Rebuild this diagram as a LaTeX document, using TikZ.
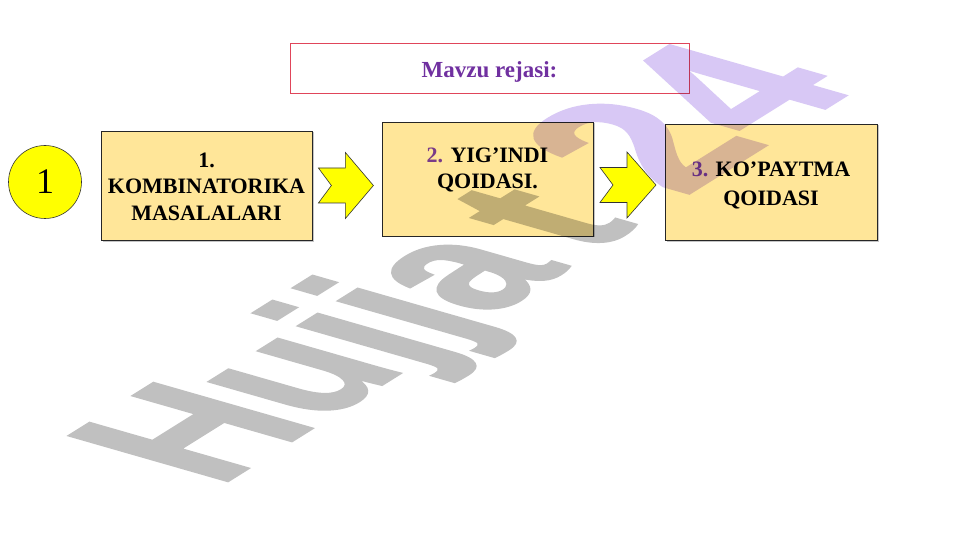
\documentclass[tikz,border=0pt]{standalone}
\usepackage{fontspec}
\setmainfont{Liberation Serif}
\newfontfamily\wmfont[BoldFeatures={FakeBold=1.5}]{Liberation Sans}
\usetikzlibrary{shadows,calc}
\definecolor{boxfill}{HTML}{FFE699}
\definecolor{topicpurple}{HTML}{7030A0}
\definecolor{numpurple}{HTML}{7A3C88}
\definecolor{titlered}{HTML}{E0455A}
\definecolor{wmgrey}{HTML}{C0C0C0}
\definecolor{wmlav}{HTML}{D8C8F5}
\definecolor{arrowyellow}{HTML}{FFFF00}
\tikzset{
  topicbox/.style={draw=black!85, line width=0.8pt, fill=boxfill, inner sep=0pt,
    drop shadow={shadow xshift=1.5pt, shadow yshift=-1.5pt, fill=black!45, opacity=0.5}},
  boxtext/.style={align=center, inner sep=0pt, font=\fontsize{22}{26.5}\selectfont\bfseries},
  blockarrow/.style={draw=black!80, line width=0.6pt, fill=arrowyellow, line join=miter},
  titlebox/.style={draw=titlered, line width=0.8pt, fill=white, inner sep=0pt},
  numcircle/.style={circle, draw=black!80, line width=0.6pt, fill=arrowyellow, inner sep=0pt},
  wmtext/.style={transform shape, anchor=base west, inner sep=0pt,
    font=\wmfont\bfseries\fontsize{10}{12}\selectfont}
}
\begin{document}
\begin{tikzpicture}[x=1pt,y=-1pt]
\useasboundingbox (0,0) rectangle (961,540);
\fill[white] (0,0) rectangle (961,540);

% title
\node[titlebox, minimum width=399pt, minimum height=50pt] (title) at (489.5,68) {};
\node[inner sep=0pt, text=topicpurple, font=\bfseries\fontsize{23}{27}\selectfont]
  (titletext) at ($(title.center)+(0,3.5)$) {Mavzu rejasi:};

% number circle
\node[numcircle, minimum size=73pt] (c1) at (45,182) {\fontsize{36}{40}\selectfont 1};

% boxes
\node[topicbox, minimum width=211pt, minimum height=109pt] (b1) at (206.5,185.5) {};
\node[topicbox, minimum width=211pt, minimum height=114pt] (b2) at (487.5,179) {};
\node[topicbox, minimum width=212pt, minimum height=116pt] (b3) at (771,182) {};

\node[boxtext] (t1) at ($(b1.center)+(0,1)$) {1.\\KOMBINATORIKA\\MASALALARI};
\node[boxtext] (t2) at ($(b2.center)+(0,-9)$) {\textcolor{numpurple}{2.} YIG’INDI\\QOIDASI.};
\node[boxtext, font=\fontsize{22}{29}\selectfont\bfseries] (t3) at ($(b3.center)+(0,3)$) {\textcolor{numpurple}{3.} KO’PAYTMA\\QOIDASI};

% watermark
\begin{scope}[blend mode=multiply, transparency group]
\begin{scope}[cm={14.4,9.0,-23,6.6,(215,489)}]
  \node[wmtext, text=wmgrey] (wm1) at (0,0) {Hujja\kern0.15em t};
\end{scope}
\begin{scope}[cm={16.0,10.0,-25.5,7.3,(680,199)}]
  \node[wmtext, text=wmlav] (wm2) at (0,0) {24};
\end{scope}
\end{scope}

% block arrows
\coordinate (a1) at ($(b1.east)+(6,0)$);
\draw[blockarrow] (a1) ++(0,-17.5) -- ++(27,0) -- ++(0,-15.5) -- ++(28,33)
   -- ++(-28,33) -- ++(0,-15.5) -- ++(-27,0) -- ++(13,-17.5) -- cycle;
\coordinate (a2) at (600,185);
\draw[blockarrow] (a2) ++(0,-17.5) -- ++(27,0) -- ++(0,-15.5) -- ++(29,33)
   -- ++(-29,33) -- ++(0,-15.5) -- ++(-27,0) -- ++(13,-17.5) -- cycle;
\end{tikzpicture}
\end{document}
